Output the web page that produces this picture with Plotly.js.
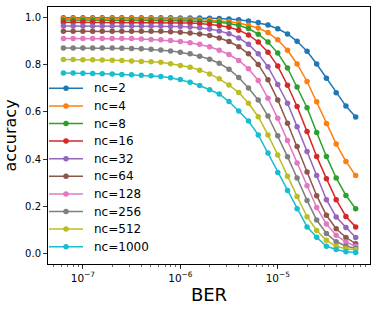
<!DOCTYPE html>
<html><head><meta charset="utf-8">
<script src="https://cdn.plot.ly/plotly-3.0.1.min.js"></script>
<style>html,body{margin:0;padding:0;background:#fff;}#chart{width:382px;height:310px;}</style>
</head><body><div id="chart"></div>
<script>
const ber = [6.31e-8,7.94e-8,1.0e-7,1.26e-7,1.58e-7,2.0e-7,2.51e-7,3.16e-7,3.98e-7,5.01e-7,
  6.31e-7,7.94e-7,1.0e-6,1.26e-6,1.58e-6,2.0e-6,2.51e-6,3.16e-6,3.98e-6,5.01e-6,
  6.31e-6,7.94e-6,1.0e-5,1.26e-5,1.58e-5,2.0e-5,2.51e-5,3.16e-5,3.98e-5,5.01e-5,6.31e-5];
const seriesNames = ["nc=2","nc=4","nc=8","nc=16","nc=32","nc=64","nc=128","nc=256","nc=512","nc=1000"];
const nc2 = [.998,.998,.998,.998,.998,.998,.998,.998,.998,.998,.998,.998,.997,.997,.996,.995,.994,.992,.989,.984,.977,.967,.951,.929,.898,.856,.802,.742,.680,.624,.578];
const nc4 = [.994,.994,.994,.994,.994,.994,.994,.994,.994,.994,.993,.993,.992,.991,.990,.988,.985,.981,.975,.966,.954,.935,.904,.860,.802,.728,.642,.550,.464,.390,.330];
const nc8 = [.988,.988,.988,.988,.988,.988,.988,.988,.988,.988,.987,.986,.985,.984,.983,.981,.978,.973,.965,.952,.928,.895,.848,.785,.705,.617,.512,.411,.320,.246,.190];
const nc16 = [.978,.978,.978,.978,.978,.978,.978,.978,.978,.978,.978,.977,.976,.975,.973,.970,.965,.957,.945,.925,.895,.852,.793,.712,.622,.516,.411,.317,.228,.157,.113];
const nc32 = [.963,.963,.963,.963,.963,.963,.963,.963,.963,.963,.963,.961,.960,.958,.955,.950,.942,.930,.912,.885,.845,.790,.715,.636,.537,.432,.330,.228,.155,.110,.068];
const nc64 = [.940,.940,.940,.940,.940,.940,.940,.940,.940,.940,.940,.938,.936,.933,.929,.922,.912,.897,.875,.845,.800,.735,.650,.551,.453,.345,.245,.162,.105,.068,.042];
const nc128 = [.910,.910,.910,.910,.910,.910,.910,.910,.908,.906,.904,.901,.897,.892,.885,.875,.860,.842,.817,.782,.732,.657,.572,.478,.383,.287,.195,.125,.078,.049,.031];
const nc256 = [.870,.870,.870,.870,.870,.870,.869,.868,.866,.864,.861,.857,.852,.845,.835,.822,.805,.780,.745,.700,.650,.582,.498,.410,.320,.225,.142,.085,.050,.032,.022];
const nc512 = [.821,.821,.820,.820,.819,.818,.817,.815,.813,.811,.809,.803,.796,.788,.776,.760,.739,.713,.681,.636,.579,.502,.417,.327,.242,.156,.098,.056,.031,.020,.016];
const nc1000 = [.764,.764,.763,.762,.761,.760,.758,.756,.754,.752,.749,.744,.736,.725,.711,.693,.675,.643,.603,.561,.502,.425,.343,.267,.190,.113,.069,.031,.017,.008,.005];
const xTickVals = [1e-7, 1e-6, 1e-5];
const xTickText = ["10<sup>−7</sup>", "10<sup>−6</sup>", "10<sup>−5</sup>"];
const yTickVals = [0, 0.2, 0.4, 0.6, 0.8, 1.0];

const allSeries = [nc2,nc4,nc8,nc16,nc32,nc64,nc128,nc256,nc512,nc1000];
const colors = ["#1f77b4","#ff7f0e","#2ca02c","#d62728","#9467bd","#8c564b","#e377c2","#7f7f7f","#bcbd22","#17becf"];
const traces = allSeries.map((ys, k) => ({
  x: ber, y: ys, name: seriesNames[k], type: "scatter", mode: "lines+markers",
  line: {color: colors[k], width: 1.5}, marker: {color: colors[k], size: 5.5}
}));
const font = {family: "DejaVu Sans", color: "#000"};

// legend drawn with shapes + annotations (pixel geometry of the plot area)
const plotL = 48, plotT = 7, plotW = 322, plotH = 257;
const px2x = p => (p - plotL) / plotW;
const px2y = p => (plotT + plotH - p) / plotH;
const shapes = [], annotations = [];
seriesNames.forEach((nm, k) => {
  const cy = 88.3 + 17.6 * k;
  shapes.push({type: "line", xref: "paper", yref: "paper",
    x0: px2x(49), x1: px2x(83), y0: px2y(cy), y1: px2y(cy),
    line: {color: colors[k], width: 1.5}});
  shapes.push({type: "circle", xref: "paper", yref: "paper",
    xsizemode: "pixel", ysizemode: "pixel", xanchor: px2x(66), yanchor: px2y(cy),
    x0: -2.75, x1: 2.75, y0: -2.75, y1: 2.75,
    fillcolor: colors[k], line: {width: 0}});
  annotations.push({text: nm, xref: "paper", yref: "paper", x: px2x(92), y: px2y(cy),
    xanchor: "left", yanchor: "middle", showarrow: false,
    font: Object.assign({size: 12}, font)});
});

const layout = {
  width: 382, height: 310,
  margin: {l: 48, r: 12, t: 7, b: 46},
  paper_bgcolor: "#fff", plot_bgcolor: "#fff",
  font: Object.assign({size: 10}, font),
  showlegend: false,
  shapes: shapes, annotations: annotations,
  xaxis: {
    type: "log", range: [-7.358, -4.053],
    tickvals: xTickVals, ticktext: xTickText,
    ticks: "outside", ticklen: 4, tickwidth: 0.8, tickcolor: "#000",
    showline: true, linecolor: "#000", linewidth: 1, mirror: true,
    showgrid: false, zeroline: false,
    tickfont: Object.assign({size: 10.5}, font),
    minor: {ticks: "outside", ticklen: 2, tickwidth: 0.6, tickcolor: "#000", dtick: "D1", showgrid: false},
    title: {text: "BER", font: Object.assign({size: 18}, font), standoff: 5}
  },
  yaxis: {
    range: [-0.044, 1.043],
    tickvals: yTickVals, tickformat: ".1f",
    ticks: "outside", ticklen: 4, tickwidth: 0.8, tickcolor: "#000",
    showline: true, linecolor: "#000", linewidth: 1, mirror: true,
    showgrid: false, zeroline: false,
    tickfont: Object.assign({size: 10}, font),
    title: {text: "accuracy", font: Object.assign({size: 16}, font), standoff: 4}
  }
};
Plotly.newPlot("chart", traces, layout, {displayModeBar: false, staticPlot: true});
</script></body></html>
